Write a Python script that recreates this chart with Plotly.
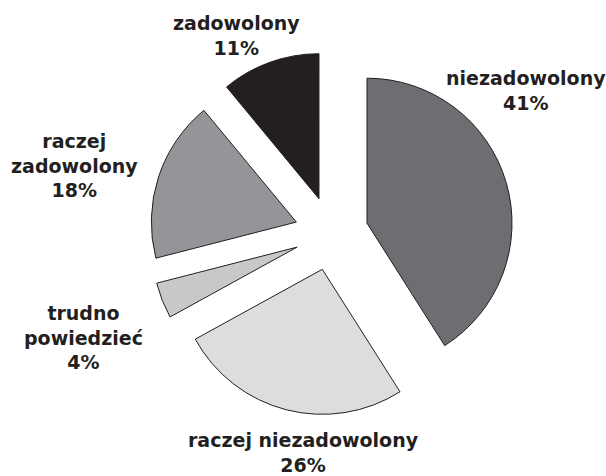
import plotly.graph_objects as go

# Data
categories = ["niezadowolony", "raczej niezadowolony", "trudno powiedzieć", "raczej zadowolony", "zadowolony"]
label_lines = ["niezadowolony", "raczej niezadowolony", "trudno<br>powiedzieć", "raczej<br>zadowolony", "zadowolony"]
values = [41, 26, 4, 18, 11]

# Styles / layout
colors = ["#6d6e71", "#dcdddf", "#c7c8ca", "#939598", "#231f20"]
label_pos_px = [(526, 90), (303, 452), (83, 337), (74, 165), (236, 36)]

W, H = 606, 476
cx, cy, r, pull = 331.5, 233.5, 145.0, 0.255
half = r * (1 + pull)

fig = go.Figure(go.Pie(
    labels=categories,
    values=values,
    sort=False,
    direction="clockwise",
    rotation=0,
    pull=[pull] * len(values),
    marker=dict(colors=colors, line=dict(color="#231f20", width=1)),
    textinfo="none",
    hoverinfo="label+percent",
    showlegend=False,
    domain=dict(x=[(cx - half) / W, (cx + half) / W],
                y=[1 - (cy + half) / H, 1 - (cy - half) / H]),
))

for lab, v, (px, py) in zip(label_lines, values, label_pos_px):
    fig.add_annotation(
        x=px / W, y=1 - py / H, xref="paper", yref="paper",
        text=f"{lab}<br>{v}%", showarrow=False,
        xanchor="center", yanchor="middle", align="center",
        borderpad=0,
        font=dict(family="DejaVu Sans", size=19, color="#231f20", weight="bold"),
    )

fig.update_layout(
    width=W, height=H,
    margin=dict(l=0, r=0, t=0, b=0),
    paper_bgcolor="white", plot_bgcolor="white",
)

fig.write_html(
    "out.html",
    config={"displayModeBar": False},
    post_script="document.body.style.margin='0';document.body.style.overflow='hidden';",
)
